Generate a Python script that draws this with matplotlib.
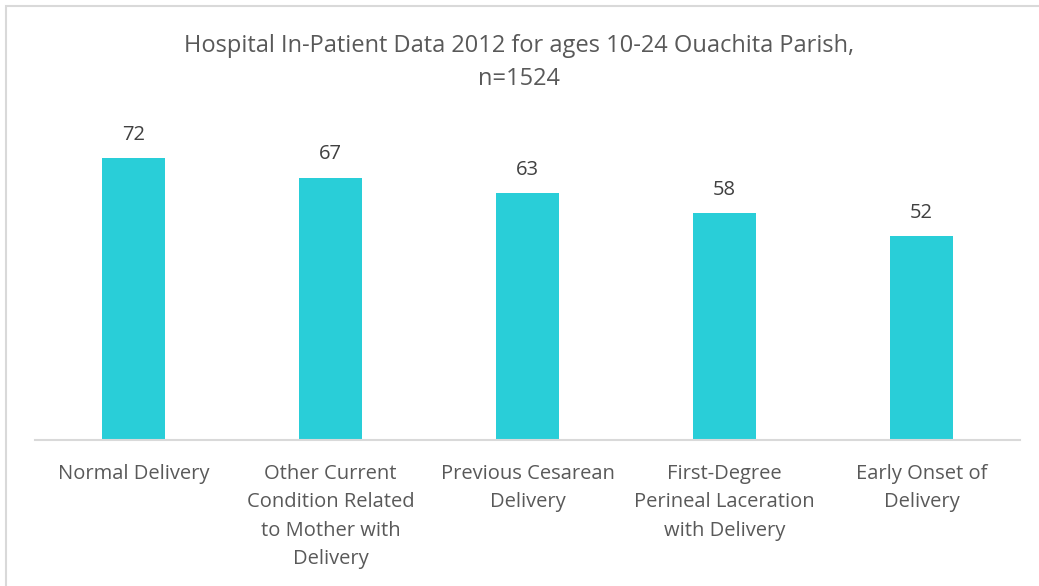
import matplotlib.pyplot as plt
from matplotlib.patches import Rectangle

categories = ["Normal Delivery",
              "Other Current\nCondition Related\nto Mother with\nDelivery",
              "Previous Cesarean\nDelivery",
              "First-Degree\nPerineal Laceration\nwith Delivery",
              "Early Onset of\nDelivery"]
values = [72, 67, 63, 58, 52]

plt.rcParams['font.family'] = ['Open Sans', 'DejaVu Sans']

fig = plt.figure(figsize=(10.39, 5.86), dpi=100)
ax = fig.add_axes([35 / 1039, 146 / 586, 985 / 1039, 313.3 / 586])

x = range(len(values))
bars = ax.bar(x, values, width=0.315, color='#29CED8', zorder=2)
for b, v in zip(bars, values):
    ax.annotate(str(v), (b.get_x() + b.get_width() / 2, v), xytext=(0, 9.5),
                textcoords='offset points', ha='center', va='bottom',
                fontsize=14.5, color='#404040')

ax.set_xlim(-0.5, len(values) - 0.5)
ax.set_ylim(0, 80)
ax.set_yticks([])
ax.set_xticks(list(x))
ax.set_xticklabels(categories, fontsize=14.5, color='#595959', linespacing=1.57)
ax.tick_params(axis='x', length=0, pad=17)
for s in ['top', 'right', 'left']:
    ax.spines[s].set_visible(False)
ax.spines['bottom'].set_color('#d9d9d9')
ax.spines['bottom'].set_linewidth(1.5)

# two-line title, centred over the whole figure
fig.text(0.5, 1 - 62.5 / 586, "Hospital In-Patient Data 2012 for ages 10-24 Ouachita Parish,\nn=1524",
         ha='center', va='center', fontsize=17, color='#595959', linespacing=1.45)

# light chart-area frame (right/bottom edges fall outside the image)
fig.patches.append(Rectangle((6 / 1039, -0.1), 1.1, 1.1 - 6 / 586,
                             transform=fig.transFigure, fill=False,
                             edgecolor='#d9d9d9', linewidth=1.5))

fig.savefig('out.png', dpi=100)
